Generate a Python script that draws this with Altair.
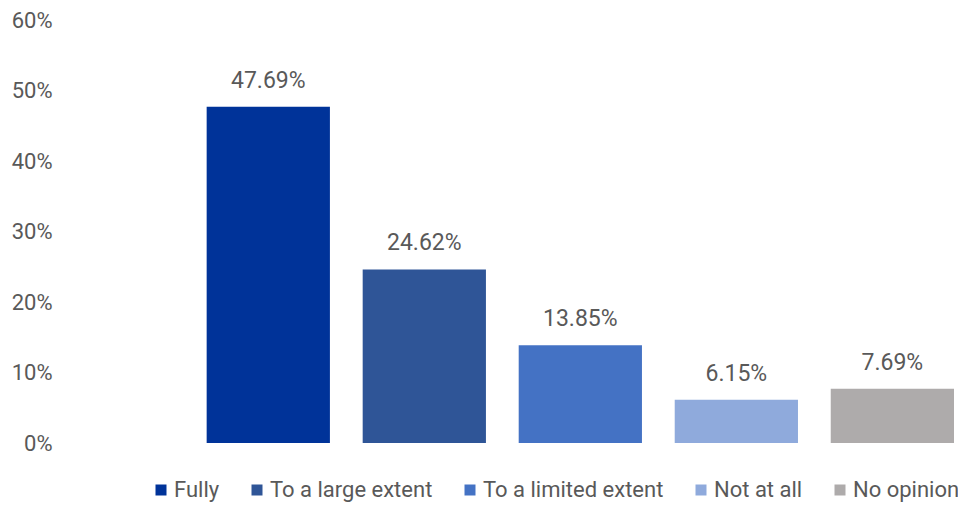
import altair as alt
import pandas as pd

categories = ["Fully", "To a large extent", "To a limited extent", "Not at all", "No opinion"]
shares = [0.4769, 0.2462, 0.1385, 0.0615, 0.0769]
colors = ["#003399", "#2F5597", "#4472C4", "#8FAADC", "#AEABAB"]
y_ticks = [0, 0.1, 0.2, 0.3, 0.4, 0.5, 0.6]

df = pd.DataFrame({"category": categories, "share": shares})

FONT = "Roboto"
GREY = "#595959"

x = alt.X(
    "category:N",
    sort=categories,
    axis=None,
    scale=alt.Scale(paddingInner=0.21, paddingOuter=0.47, align=1),
)
y = alt.Y(
    "share:Q",
    scale=alt.Scale(domain=[0, 0.6], nice=False),
    axis=alt.Axis(
        format=".0%",
        values=y_ticks,
        grid=False,
        domain=False,
        ticks=False,
        labelPadding=8,
        labelFontSize=22,
        labelColor=GREY,
        labelFont=FONT,
        title=None,
    ),
)

bars = alt.Chart(df).mark_bar().encode(
    x=x,
    y=y,
    color=alt.Color(
        "category:N",
        sort=categories,
        scale=alt.Scale(domain=categories, range=colors),
        legend=alt.Legend(
            title=None,
            orient="none",
            direction="horizontal",
            legendX=90,
            legendY=459,
            symbolType="square",
            symbolSize=121,
            symbolStrokeWidth=0,
            labelFontSize=22,
            labelFont=FONT,
            labelColor=GREY,
            labelOffset=2,
            columnPadding=26,
            padding=0,
            labelLimit=400,
        ),
    ),
)

text = alt.Chart(df).mark_text(
    baseline="alphabetic", dy=-19, fontSize=23, color=GREY, font=FONT
).encode(x=x, y=y, text=alt.Text("share:Q", format=".2%"))

chart = (bars + text).properties(
    width=894,
    height=423,
    autosize=alt.AutoSizeParams(type="none"),
    padding={"left": 52, "top": 12, "right": 4, "bottom": 60},
).configure_view(stroke=None)

chart.save("out.html", embed_options={"renderer": "svg", "actions": False})
